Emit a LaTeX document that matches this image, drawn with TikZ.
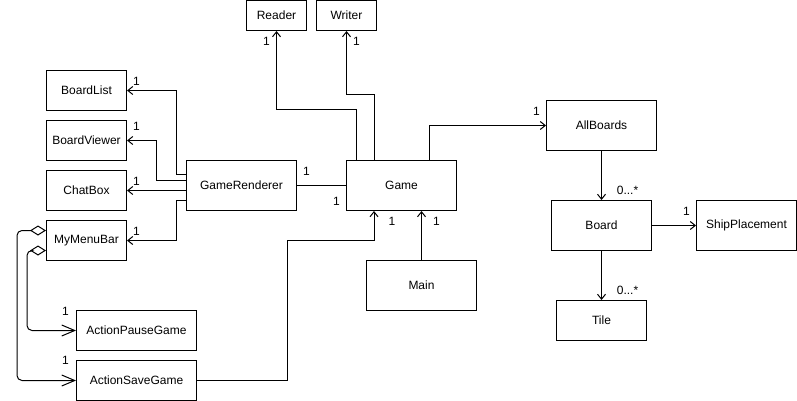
\documentclass[tikz,border=0pt]{standalone}
\usepackage{fontspec}
\setmainfont{Liberation Sans}
\usetikzlibrary{arrows.meta}
\begin{document}
\begin{tikzpicture}[x=1pt,y=-1pt,
  box/.style={draw,line width=1pt,inner sep=0pt,font=\fontsize{12}{14}\selectfont},
  b60/.style={box,minimum width=60pt,minimum height=30pt},
  b80/.style={box,minimum width=80pt,minimum height=40pt},
  b110/.style={box,minimum width=110pt,minimum height=50pt},
  b120/.style={box,minimum width=120pt,minimum height=40pt},
  conn/.style={line width=1pt,line join=miter,-{Straight Barb[length=5pt,width=8pt,line join=miter]}},
  plainline/.style={line width=1pt},
  lbl/.style={font=\fontsize{12}{14}\selectfont,inner sep=0pt},
  agg/.style={line width=1pt,rounded corners=5pt,{Diamond[open,length=16pt,width=10pt,line join=miter]}-{Straight Barb[length=13pt,width=11pt,line join=miter]}}]
\useasboundingbox (-0.5,-0.5) rectangle (796.5,400.5);

% boxes
\node[b60] (reader) at (276,15) {Reader};
\node[b60] (writer) at (346,15) {Writer};
\node[b80] (boardlist) at (86,90) {BoardList};
\node[b80] (boardviewer) at (86,140) {BoardViewer};
\node[b80] (chatbox) at (86,190) {ChatBox};
\node[b80] (mymenubar) at (86,240) {MyMenuBar};
\node[b110] (gr) at (241,185) {GameRenderer};
\node[b110] (game) at (401,185) {Game};
\node[b110] (main) at (421,285) {Main};
\node[b120] (apg) at (136,330) {ActionPauseGame};
\node[b120] (asg) at (136,380) {ActionSaveGame};
\node[b110] (allboards) at (601,125) {AllBoards};
\node[box,minimum width=100pt,minimum height=50pt] (board) at (601,225) {Board};
\node[box,minimum width=100pt,minimum height=50pt] (ship) at (746,225) {ShipPlacement};
\node[box,minimum width=90pt,minimum height=40pt] (tile) at (601,320) {Tile};

% connectors
\draw[conn] ([xshift=-45pt]game.north) -- ++(0,-50) -| (reader.south);
\draw[conn] ([xshift=-27.5pt]game.north) -- ++(0,-65) -| (writer.south);
\draw[conn] ([xshift=27.5pt]game.north) |- (allboards.west);
\draw[conn] ([yshift=11.5pt]gr.west) -- ++(-10,0) |- (boardlist.east);
\draw[conn] ([yshift=5pt]gr.west) -- ++(-30,0) |- (boardviewer.east);
\draw[conn] ([yshift=-5pt]gr.west) -- (chatbox.east);
\draw[conn] ([yshift=-15pt]gr.west) -- ++(-10,0) |- (mymenubar.east);
\draw[plainline] (gr.east) -- (game.west);
\draw[conn] (asg.east) -- ++(90,0) -- ++(0,-140) -| ([xshift=-27.5pt]game.south);
\draw[conn] (main.north) -- (main.north |- game.south);
\draw[conn] (allboards.south) -- (board.north);
\draw[conn] (board.east) -- (ship.west);
\draw[conn] (board.south) -- (tile.north);
\draw[agg] ([yshift=10pt]mymenubar.west) -- ++(-29,0) |- (asg.west);
\draw[agg] ([yshift=-10pt]mymenubar.west) -- ++(-19,0) |- (apg.west);

% multiplicity labels
\node[lbl] (lreader) at (266,41) {1};
\node[lbl] (lwriter) at (356,41) {1};
\node[lbl] (lboardlist) at (136,81) {1};
\node[lbl] (lboardviewer) at (136,126) {1};
\node[lbl] (lchatbox) at (136,181) {1};
\node[lbl] (lmenubar) at (136,230.5) {1};
\node[lbl] (lgr) at (306,171) {1};
\node[lbl] (lgame) at (336,201) {1};
\node[lbl] (lasg) at (391.5,221) {1};
\node[lbl] (lmain) at (436,221) {1};
\node[lbl] (lallboards) at (536,111) {1};
\node[lbl] (lboard) at (627,190) {0...*};
\node[lbl] (lship) at (686,211) {1};
\node[lbl] (ltile) at (627,290) {0...*};
\node[lbl] (lapg) at (65,310.5) {1};
\node[lbl] (lasg2) at (65,360) {1};
\end{tikzpicture}
\end{document}
